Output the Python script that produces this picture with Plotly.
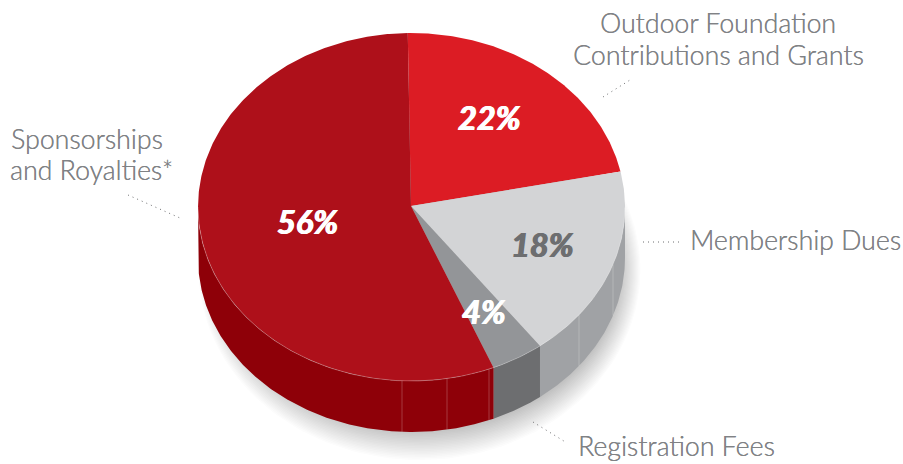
import numpy as np
import plotly.graph_objects as go

# Revenue split, clockwise from the top of the pie
categories = ["Outdoor Foundation Contributions and Grants", "Membership Dues",
              "Registration Fees", "Sponsorships and Royalties*"]
shares = [22, 18, 4, 56]
top_colors = ["#dc1c24", "#d3d4d6", "#939598", "#ae101a"]
side_colors = ["#b5141c", "#a0a2a5", "#6d6e70", "#8e0008"]
pct_labels = ["22%", "18%", "4%", "56%"]
pct_colors = ["#ffffff", "#6d6e70", "#ffffff", "#ffffff"]
pct_anchor = [(489, 117), (542, 244), (484, 311), (307, 221)]

# Pie geometry in page pixels
CX, CY, RX, RY = 411.5, 207.0, 213.5, 174.0
DEPTH = 51.0
START_DEG = -1.0


def rim(t_deg):
    t = np.radians(t_deg)
    return CX + RX * np.sin(t), CY - RY * np.cos(t)


def arc(a, b, step=0.5):
    n = max(2, int(abs(b - a) / step) + 1)
    return np.linspace(a, b, n)


def angle_at_x(x):
    # lower-half rim angle for a given page x
    return 180 - np.degrees(np.arcsin((x - CX) / RX))


fig = go.Figure()


def poly(xs, ys, color):
    fig.add_trace(go.Scatter(x=xs, y=ys, mode="lines", fill="toself", fillcolor=color,
                             line=dict(width=0), hoverinfo="skip", showlegend=False))


# Soft drop shadow under the base, pushed down and to the right
for i in range(24):
    grow = 22 - i * 1.5
    t = np.radians(arc(0, 360, 2))
    xs = CX + 8 + (RX - 8 + grow * 0.7) * np.sin(t)
    ys = CY + DEPTH + 12 - (RY - 6 + grow) * np.cos(t)
    poly(xs, ys, "rgba(60,60,60,0.016)")

# Side walls: only the lower half of the rim is visible
edges = np.cumsum([0] + shares) * 3.6 + START_DEG
for k in range(len(shares)):
    a, b = max(edges[k], 90.0), min(edges[k + 1], 270.0)
    if a >= b:
        continue
    x_top, y_top = rim(arc(a, b))
    poly(np.r_[x_top, x_top[::-1]], np.r_[y_top, y_top[::-1] + DEPTH], side_colors[k])

# Top faces
for k in range(len(shares)):
    x_top, y_top = rim(arc(edges[k], edges[k + 1]))
    poly(np.r_[CX - 0.5, x_top], np.r_[CY - 1, y_top], top_colors[k])

# Pale highlight along the front rim
x_rim, y_rim = rim(arc(edges[1] + 12, 270))
fig.add_trace(go.Scatter(x=x_rim, y=y_rim, mode="lines", hoverinfo="skip", showlegend=False,
                         line=dict(color="rgba(255,255,255,0.35)", width=0.8)))

# Facet seams on the wall
for seam_x in [402, 447, 489, 579, 613]:
    sx, sy = rim(np.array([angle_at_x(seam_x)]))
    fig.add_trace(go.Scatter(x=[sx[0], sx[0]], y=[sy[0], sy[0] + DEPTH], mode="lines",
                             hoverinfo="skip", showlegend=False,
                             line=dict(color="rgba(255,255,255,0.28)", width=0.8)))

# Dotted leader lines
leaders = [((603, 97), (630, 80)), ((128, 195), (180, 218)),
           ((643, 242), (680, 242)), ((533, 422), (567, 443))]
for (x0, y0), (x1, y1) in leaders:
    fig.add_trace(go.Scatter(x=[x0, x1], y=[y0, y1], mode="lines", hoverinfo="skip", showlegend=False,
                             line=dict(color="#6d6e70", width=1, dash="1px,4px")))

# Category captions, one annotation per printed line
GREY = "#808285"
caption_lines = [
    ("Outdoor Foundation", 718, 23, "center"),
    ("Contributions and Grants", 718, 55, "center"),
    ("Sponsorships", 9, 139, "left"),
    ("and Royalties*", 8, 170, "left"),
    ("Membership Dues", 688, 240, "left"),
    ("Registration Fees", 576, 446, "left"),
]
for text, x, y, anchor in caption_lines:
    fig.add_annotation(x=x, y=y, text=text, showarrow=False, xanchor=anchor, yanchor="middle",
                       font=dict(family="Lato", size=26.7, color=GREY, weight=300,
                                 shadow=f"0.25px 0 0 {GREY}"))

# Percentages on the slices, thickened with a same-colour offset
for label, (x, y), color in zip(pct_labels, pct_anchor, pct_colors):
    fig.add_annotation(x=x, y=y, text=label, showarrow=False,
                       font=dict(family="Lato", size=32.5, color=color, weight=700, style="italic",
                                 shadow=f"0.7px 0 0 {color}, -0.7px 0 0 {color}"))

fig.update_xaxes(range=[0, 903], visible=False, fixedrange=True)
fig.update_yaxes(range=[464, 0], visible=False, fixedrange=True)
fig.update_layout(width=903, height=464, margin=dict(l=0, r=0, t=0, b=0),
                  plot_bgcolor="white", paper_bgcolor="white", showlegend=False)
fig.write_html("out.html", config={"displayModeBar": False})
